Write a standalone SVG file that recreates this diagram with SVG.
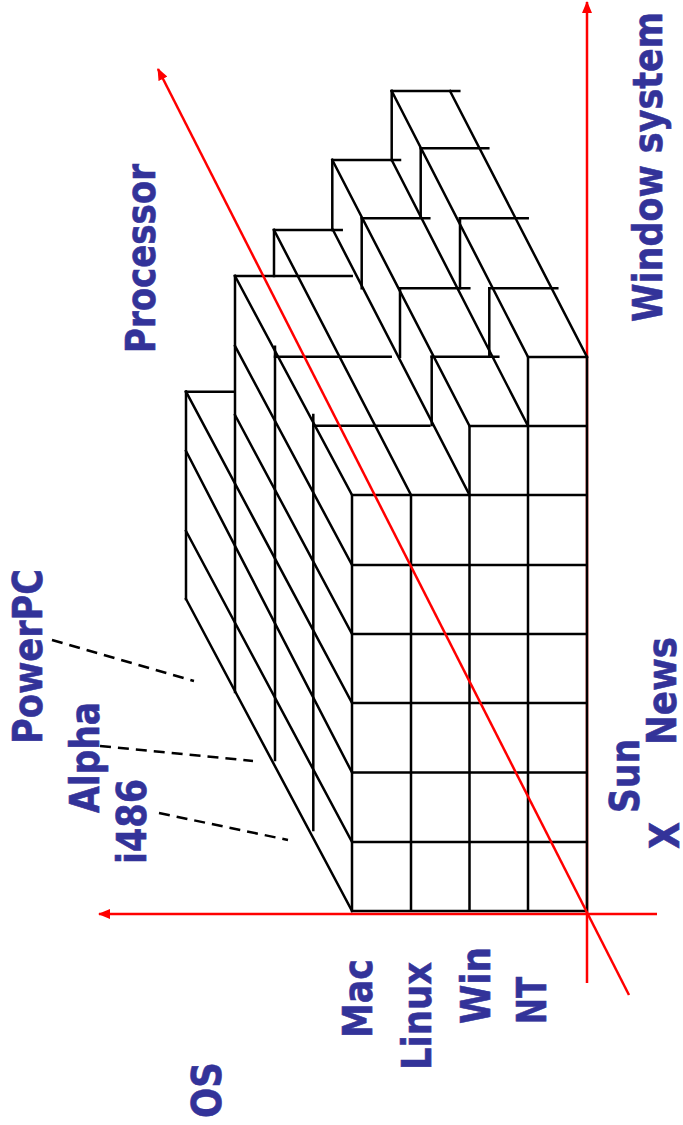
<svg xmlns="http://www.w3.org/2000/svg" width="683" height="1125" viewBox="0 0 683 1125">
<style>
.k{stroke:#000;stroke-width:2.5;fill:none;stroke-linecap:square;stroke-linejoin:miter}
.r{stroke:#f00;stroke-width:2.5;fill:none}
.d{stroke:#000;stroke-width:2.5;fill:none;stroke-dasharray:11 7}
.t{font-family:"DejaVu Sans",Verdana,sans-serif;font-weight:bold;font-size:40px;fill:#333399;stroke:#333399;stroke-width:0.6}
</style>
<defs>
<marker id="ah" markerUnits="userSpaceOnUse" markerWidth="12" markerHeight="10" refX="11" refY="5" orient="auto">
<path d="M0,0 L12,5 L0,10 z" fill="#f00"/>
</marker>
</defs>
<rect width="683" height="1125" fill="#fff"/>
<g id="axis-window">
<line class="r" x1="587" y1="983" x2="587" y2="2" marker-end="url(#ah)"/>
</g>
<g id="cube">
<path class="k" d="M352,495V911 M411,495V911 M469.5,426V911 M528,357V911 M587,357V911
M352,911H587 M352,842H587 M352,772.5H587 M352,703H587 M352,634H587 M352,565H587 M352,495H587
M469.5,426H587 M528,357H587"/>
<path class="k" d="M391.7,91H459.3 M420.7,148.3H488.3 M332.3,160H400 M361.7,218.3H429.3 M460,218.3H527.7
M274,230H341.7 M235,276H351.7 M400,288.3H469.3 M489.3,288.3H557.3 M275,356.7H390.7 M431.7,356.7H498.3
M186,391.7H233.3 M313.3,425.7H429.3"/>
<path class="k" d="M391.7,91V160 M420.7,148.3V216.7 M332.3,160V230 M361.7,218.3V288.3 M460,218.3V288.3
M274,230V276 M235,276V692 M400,288.3V356.7 M489.3,288.3V356.7 M275,346.7V760 M431.7,356.7V425
M186,391.7V599 M313.3,415V830"/>
<path class="k" d="M528,357L391.7,91 M587,357L450,91 M528,426L391.7,160 M469.5,426L332.3,160
M469.5,495L333,230 M411,495L274,230 M352,495L235,276
M352,911L186,599 M352,842L186,531 M352,772.5L186,451 M352,703L186,391.7 M352,634L235,415 M352,565L235,346"/>
</g>
<g id="axis-os">
<line class="r" x1="657" y1="914" x2="99" y2="914" marker-end="url(#ah)"/>
</g>
<g id="axis-processor">
<line class="r" x1="629" y1="995" x2="158" y2="69" marker-end="url(#ah)"/>
</g>
<g id="leaders">
<line class="d" x1="52" y1="640" x2="194" y2="681"/>
<line class="d" x1="100" y1="746" x2="253" y2="761"/>
<line class="d" x1="159" y1="813" x2="288" y2="840"/>
</g>
<g id="labels">
<text class="t" transform="translate(662,322) rotate(-90)" textLength="310" lengthAdjust="spacingAndGlyphs">Window system</text>
<text class="t" transform="translate(155,353) rotate(-90)" textLength="189" lengthAdjust="spacingAndGlyphs">Processor</text>
<text class="t" transform="translate(221,1118) rotate(-90)" textLength="56" lengthAdjust="spacingAndGlyphs">OS</text>
<text class="t" transform="translate(371.5,1038) rotate(-90)" textLength="79" lengthAdjust="spacingAndGlyphs">Mac</text>
<text class="t" transform="translate(430.5,1070) rotate(-90)" textLength="108" lengthAdjust="spacingAndGlyphs">Linux</text>
<text class="t" transform="translate(490,1024) rotate(-90)" textLength="77" lengthAdjust="spacingAndGlyphs">Win</text>
<text class="t" transform="translate(546,1024) rotate(-90)" textLength="47" lengthAdjust="spacingAndGlyphs">NT</text>
<text class="t" transform="translate(42,744) rotate(-90)" textLength="175" lengthAdjust="spacingAndGlyphs">PowerPC</text>
<text class="t" transform="translate(99.3,813) rotate(-90)" textLength="111" lengthAdjust="spacingAndGlyphs">Alpha</text>
<text class="t" transform="translate(146,864) rotate(-90)" textLength="85" lengthAdjust="spacingAndGlyphs">i486</text>
<text class="t" transform="translate(639,813) rotate(-90)" textLength="74" lengthAdjust="spacingAndGlyphs">Sun</text>
<text class="t" transform="translate(676,745) rotate(-90)" textLength="108" lengthAdjust="spacingAndGlyphs">News</text>
<text class="t" transform="translate(679,849) rotate(-90)" textLength="27" lengthAdjust="spacingAndGlyphs">X</text>
</g>
</svg>
